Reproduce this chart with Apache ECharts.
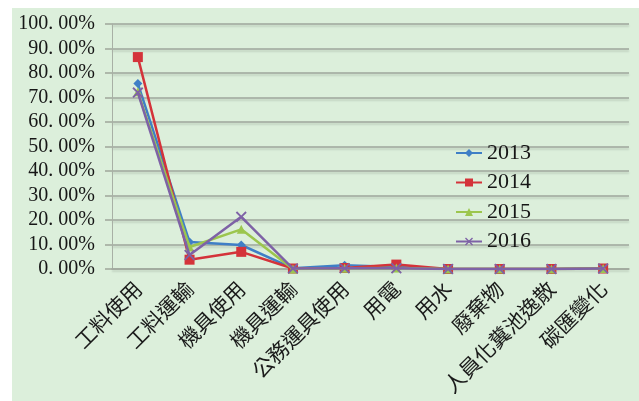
<!DOCTYPE html>
<html>
<head>
<meta charset="utf-8">
<script src="https://cdn.jsdelivr.net/npm/echarts@6/dist/echarts.min.js"></script>
<style>
  html, body { margin: 0; padding: 0; background: #ffffff; }
  #chart { width: 639px; height: 401px; }
</style>
</head>
<body>
<div id="chart"></div>
<script>
// Emission share by source category, per year (percent)
const categories = ['工料使用', '工料運輸', '機具使用', '機具運輸', '公務運具使用', '用電', '用水', '廢棄物', '人員化糞池逸散', '碳匯變化'];
const years = ['2013', '2014', '2015', '2016'];
const share2013 = [75.7, 11.0, 9.8, 0.3, 1.5, 0.8, 0, 0, 0, 0.2];
const share2014 = [86.5, 3.8, 7.0, 0.2, 0.4, 1.8, 0, 0, 0, 0.2];
const share2015 = [72.3, 9.0, 16.2, 0.0, 0.3, 0.4, 0, 0, 0, 0.2];
const share2016 = [72.0, 5.7, 21.3, 0.2, 0.3, 0.3, 0, 0, 0, 0.2];
const yTicks = [0, 10, 20, 30, 40, 50, 60, 70, 80, 90, 100];

const colors = ['#3f7fc6', '#d4333a', '#9cc64e', '#7e62a6'];
const crossPath = 'path://M0,1.2L1.2,0L5,3.8L8.8,0L10,1.2L6.2,5L10,8.8L8.8,10L5,6.2L1.2,10L0,8.8L3.8,5Z';
const symbols = ['diamond', 'rect', 'triangle', crossPath];
const symbolSizes = [9, 10, 9, 11];
const seriesData = [share2013, share2014, share2015, share2016];

const chart = echarts.init(document.getElementById('chart'));

function pctLabel(v) {
  const s = v.toFixed(2);
  return s.replace('.', '. ') + '%';
}

chart.setOption({
  animation: false,
  backgroundColor: 'transparent',
  graphic: [{
    type: 'rect',
    z: -10,
    silent: true,
    shape: { x: 12, y: 8, width: 627, height: 393 },
    style: { fill: '#dcefdb' }
  }],
  color: colors,
  grid: { left: 112, right: 10, top: 24, bottom: 132, containLabel: false },
  legend: {
    orient: 'vertical',
    left: 450,
    top: 137,
    itemWidth: 26,
    itemHeight: 10,
    itemGap: 7.5,
    data: years,
    textStyle: {
      fontFamily: 'Liberation Serif',
      fontSize: 22,
      lineHeight: 22,
      color: '#161616'
    }
  },
  xAxis: {
    type: 'category',
    data: categories,
    boundaryGap: true,
    axisLine: { show: true, lineStyle: { color: '#a0a89d', width: 1.5 } },
    axisTick: { show: false },
    axisLabel: {
      rotate: 45,
      interval: 0,
      margin: 16,
      fontFamily: 'Noto Sans CJK TC',
      fontSize: 21,
      color: '#1a1a1a'
    }
  },
  yAxis: {
    type: 'value',
    min: 0,
    max: 100,
    interval: 10,
    axisLine: { show: true, lineStyle: { color: '#a8b0a5', width: 1 } },
    axisTick: { show: true, length: 7, lineStyle: { color: '#9ea69b', width: 1.5 } },
    splitLine: {
      show: true,
      lineStyle: {
        color: '#9ea69b',
        width: 1.5,
        shadowColor: 'rgba(0,0,0,0.15)',
        shadowBlur: 2,
        shadowOffsetY: 2
      }
    },
    axisLabel: {
      margin: 17,
      fontFamily: 'Liberation Serif',
      fontSize: 20,
      color: '#161616',
      formatter: function (v) {
        return yTicks.indexOf(v) >= 0 ? pctLabel(v) : '';
      }
    }
  },
  series: years.map(function (y, i) {
    return {
      name: y,
      type: 'line',
      data: seriesData[i],
      symbol: symbols[i],
      symbolSize: symbolSizes[i],
      showAllSymbol: true,
      lineStyle: { width: 2.5, color: colors[i] },
      itemStyle: { color: colors[i] },
      z: 2 + i
    };
  })
});
</script>
</body>
</html>
